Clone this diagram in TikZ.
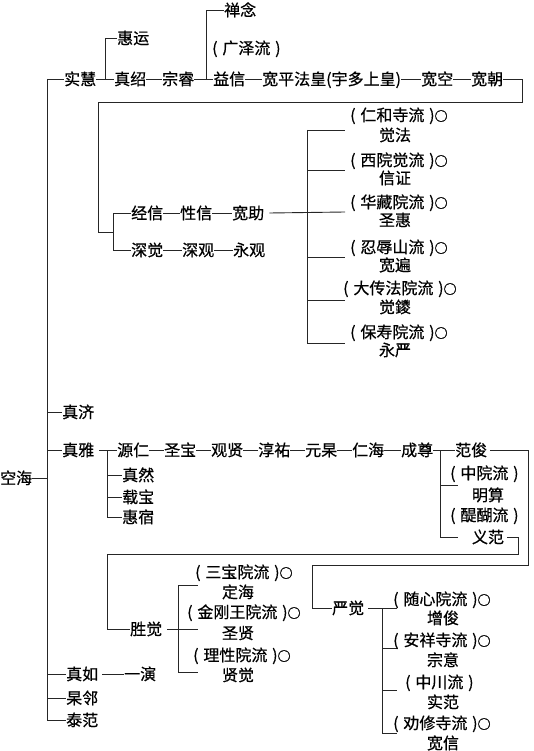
\documentclass[tikz,border=0pt]{standalone}
\usepackage{fontspec}
\newfontfamily\cjk[FakeBold=0.6]{Noto Sans CJK SC}
\newcommand\myo{{\fontsize{13}{14}\selectfont ○}}
\newcommand\lpar{(\kern0.3em}
\newcommand\rpar{\kern0.3em)}
\begin{document}
\begin{tikzpicture}[x=1pt,y=-1pt,
  every node/.style={font=\cjk\fontsize{16}{18}\selectfont, inner sep=0pt, text height=14pt, text depth=2pt},
  nm/.style={anchor=west},
  ln/.style={draw=black!85, line width=0.9pt}]
\useasboundingbox (0,0) rectangle (533,751);
% ---------- trunk ----------
\node[nm] (kukai) at (0,478) {空海};
\coordinate (tTop) at (47,79);
\coordinate (tBot) at (47,720);
\draw[ln] (tTop) -- (tBot);
\draw[ln] (kukai.east) -- (kukai.east -| tTop);
% ---------- top row ----------
\node[nm] (shihui) at (64,79) {实慧};
\node[nm] (zhenshao) at (114,79) {真绍};
\node[nm] (zongrui) at (162,79) {宗睿};
\node[nm] (yixin) at (213,79) {益信};
\node[nm] (kuanping) at (262,79) {宽平法皇(宇多上皇)};
\node[nm] (kuankong) at (421,79) {宽空};
\node[nm] (kuanchao) at (471,79) {宽朝};
\node[nm] (huiyun) at (117,38) {惠运};
\node[nm] (channian) at (224,10) {禅念};
\node[nm] (guangze) at (212,48) {\lpar 广泽流\rpar};
\draw[ln] (tTop) -- (shihui.west);
\draw[ln] (shihui.east) -- (zhenshao.west);
\draw[ln] (zhenshao.east) -- (zongrui.west);
\draw[ln] (zongrui.east) -- (yixin.west);
\draw[ln] (yixin.east) -- (kuanping.west);
\draw[ln] (kuanping.east) -- (kuankong.west);
\draw[ln] (kuankong.east) -- (kuanchao.west);
\coordinate (j1) at (105,79);
\coordinate (j2) at (206,79);
\draw[ln] (j1) |- (huiyun.west);
\draw[ln] (j2) |- (channian.west);
% ---------- loop to second generation ----------
\coordinate (f2) at (113,232);
\draw[ln] (kuanchao.east) -- (522,79) -- (522,102) -- (98,102) -- (98,232) -- (f2);
\node[nm] (jingxin) at (131,213) {经信};
\node[nm] (xingxin) at (180,213) {性信};
\node[nm] (kuanzhu) at (232,213) {宽助};
\node[nm] (shenjue) at (131,250) {深觉};
\node[nm] (shenguan) at (182,250) {深观};
\node[nm] (yongguan) at (233,250) {永观};
\draw[ln] (f2) |- (jingxin.west);
\draw[ln] (f2) |- (shenjue.west);
\draw[ln] (jingxin.east) -- (xingxin.west);
\draw[ln] (xingxin.east) -- (kuanzhu.west);
\draw[ln] (shenjue.east) -- (shenguan.west);
\draw[ln] (shenguan.east) -- (yongguan.west);
% ---------- kuanzhu branches ----------
\coordinate (f3) at (307,212);
\draw[ln] ([xshift=5pt]kuanzhu.east) -- (345,212);
\draw[ln] (307,130) -- (307,343);
\foreach \yy in {130,170,257,300,343} \draw[ln] (307,\yy) -- (345,\yy);
\node[nm] (l1) at (350,115) {\lpar 仁和寺流\rpar\myo};
\node (n1) at (395,135) {觉法};
\node[nm] (l2) at (350,160) {\lpar 西院觉流\rpar\myo};
\node (n2) at (395,178) {信证};
\node[nm] (l3) at (350,202) {\lpar 华藏院流\rpar\myo};
\node (n3) at (395,220) {圣惠};
\node[nm] (l4) at (350,247) {\lpar 忍辱山流\rpar\myo};
\node (n4) at (395,265) {宽遍};
\node[nm] (l5) at (343,288) {\lpar 大传法院流\rpar\myo};
\node (n5) at (395,307) {觉鑁};
\node[nm] (l6) at (350,332) {\lpar 保寿院流\rpar\myo};
\node (n6) at (395,350) {永严};
% ---------- other trunk children ----------
\node[nm] (zhenji) at (62,412) {真济};
\node[nm] (zhenya) at (62,450) {真雅};
\node[nm] (zhenru) at (66,674) {真如};
\node[nm] (gaolin) at (66,698) {杲邻};
\node[nm] (taifan) at (66,720) {泰范};
\foreach \c in {zhenji,zhenya,zhenru,gaolin,taifan}
  \draw[ln] (\c.west -| tTop) -- (\c.west);
\node[nm] (yiyan) at (124,674) {一演};
\draw[ln] ([xshift=4pt]zhenru.east) -- (yiyan.west);
% ---------- zhenya line ----------
\node[nm] (yuanren) at (117,450) {源仁};
\node[nm] (shengbao) at (164,450) {圣宝};
\node[nm] (guanxian) at (211,450) {观贤};
\node[nm] (chunyou) at (258,450) {淳祐};
\node[nm] (yuangao) at (305,450) {元杲};
\node[nm] (renhai) at (352,450) {仁海};
\node[nm] (chengzun) at (401,450) {成尊};
\node[nm] (fanjun) at (455,450) {范俊};
\node[nm] (zhenran) at (122,475) {真然};
\node[nm] (zaibao) at (122,497) {载宝};
\node[nm] (huisu) at (122,517) {惠宿};
\coordinate (f4) at (107,450);
\draw[ln] ([xshift=5pt]zhenya.east) -- (yuanren.west);
\draw[ln] (f4) |- (huisu.west);
\draw[ln] (zhenran.west -| f4) -- (zhenran.west);
\draw[ln] (zaibao.west -| f4) -- (zaibao.west);
\draw[ln] (yuanren.east) -- (shengbao.west);
\draw[ln] (shengbao.east) -- (guanxian.west);
\draw[ln] (guanxian.east) -- (chunyou.west);
\draw[ln] (chunyou.east) -- (yuangao.west);
\draw[ln] (yuangao.east) -- (renhai.west);
\draw[ln] (renhai.east) -- (chengzun.west);
\coordinate (f5) at (440,450);
\draw[ln] (chengzun.east) -- (fanjun.west);
\draw[ln] (f5) -- (440,537) -- (458,537);
\draw[ln] (440,485) -- (458,485);
\node[nm] (l7) at (450,473) {\lpar 中院流\rpar};
\node (n7) at (488,495) {明算};
\node[nm] (l8) at (450,515) {\lpar 醍醐流\rpar};
\node (n8) at (488,537) {义范};
% ---------- links down ----------
\node[nm] (shengjue) at (130,629) {胜觉};
\node[nm] (yanjue) at (332,608) {严觉};
\draw[ln] ([xshift=3pt]fanjun.east) -- (528,450) -- (528,565) -- (312,565) -- (312,608) -- (yanjue.west);
\draw[ln] ([xshift=3pt]n8.east) -- (518,537) -- (518,554) -- (107,554) -- (107,629) -- (shengjue.west);
% ---------- shengjue branches ----------
\draw[ln] ([xshift=5pt]shengjue.east) -- (198,629);
\draw[ln] (178,585) -- (178,672);
\draw[ln] (178,585) -- (198,585);
\draw[ln] (178,672) -- (198,672);
\node[nm] (l9) at (195,572) {\lpar 三宝院流\rpar\myo};
\node (n9) at (238,592) {定海};
\node[nm] (l10) at (187,612) {\lpar 金刚王院流\rpar\myo};
\node (n10) at (238,633) {圣贤};
\node[nm] (l11) at (193,655) {\lpar 理性院流\rpar\myo};
\node (n11) at (238,675) {贤觉};
% ---------- yanjue branches ----------
\draw[ln] ([xshift=4pt]yanjue.east) -- (397,608);
\draw[ln] (382,608) -- (382,733);
\foreach \yy in {648,690,733} \draw[ln] (382,\yy) -- (397,\yy);
\node[nm] (l12) at (393,599) {\lpar 随心院流\rpar\myo};
\node (n12) at (443,618) {增俊};
\node[nm] (l13) at (393,640) {\lpar 安祥寺流\rpar\myo};
\node (n13) at (443,660) {宗意};
\node[nm] (l14) at (405,682) {\lpar 中川流\rpar};
\node (n14) at (443,702) {实范};
\node[nm] (l15) at (393,723) {\lpar 劝修寺流\rpar\myo};
\node (n15) at (443,743) {宽信};
\end{tikzpicture}
\end{document}
